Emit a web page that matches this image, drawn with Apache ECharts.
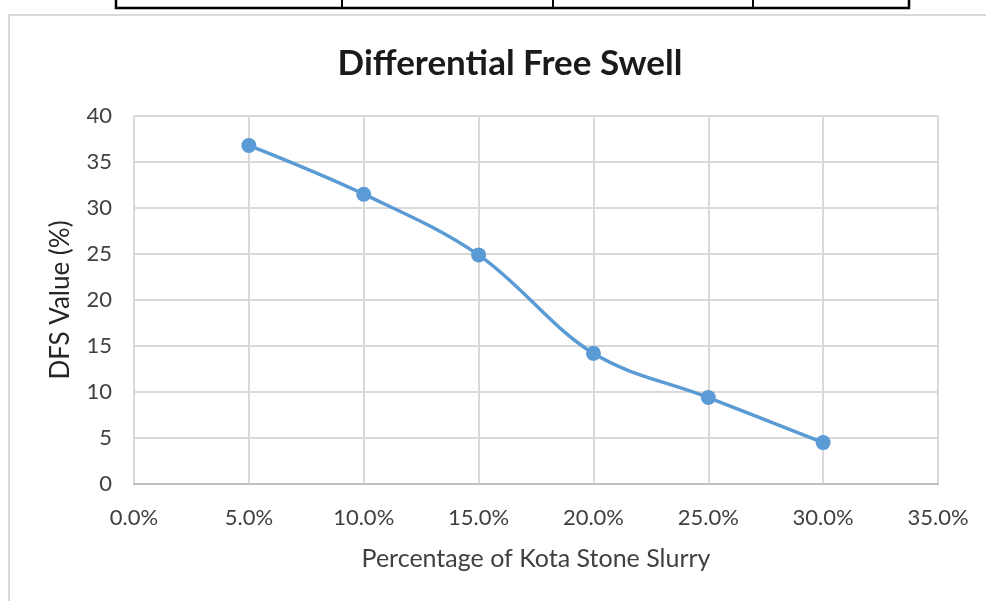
<!DOCTYPE html>
<html><head><meta charset="utf-8">
<script src="https://cdn.jsdelivr.net/npm/echarts@6/dist/echarts.min.js"></script>
<style>html,body{margin:0;padding:0;background:#fff}#c{width:986px;height:601px}</style>
</head><body><div id="c"></div>
<script>
const percentages = [0.05, 0.10, 0.15, 0.20, 0.25, 0.30];
const dfsValues = [36.8, 31.5, 24.9, 14.2, 9.4, 4.5];
const xTicks = [0, 0.05, 0.10, 0.15, 0.20, 0.25, 0.30, 0.35];
const yTicks = [0, 5, 10, 15, 20, 25, 30, 35, 40];

const chart = echarts.init(document.getElementById('c'));
const FONT = 'Lato, "Open Sans", sans-serif';
chart.setOption({
  animation: false,
  backgroundColor: '#fff',
  title: {
    text: 'Differential Free Swell', left: 505, top: 41, textAlign: 'center',
    textStyle: {fontFamily: FONT, fontSize: 35, fontWeight: 'bold', color: '#1a1a1a'}
  },
  grid: {left: 134, right: 48, top: 116, bottom: 117},
  xAxis: {
    type: 'value', min: 0, max: 0.35, interval: 0.05,
    name: 'Percentage of Kota Stone Slurry', nameLocation: 'middle', nameGap: 62,
    nameTextStyle: {fontFamily: FONT, fontSize: 25, color: '#404040'},
    axisLine: {show: true, lineStyle: {color: '#bfbfbf', width: 2}},
    axisTick: {show: false},
    axisLabel: {margin: 23, fontFamily: FONT, fontSize: 22, color: '#404040',
      formatter: v => (v * 100).toFixed(1) + '%'},
    splitLine: {show: true, lineStyle: {color: '#d9d9d9', width: 2}}
  },
  yAxis: {
    type: 'value', min: 0, max: 40, interval: 5,
    name: 'DFS Value (%)', nameLocation: 'middle', nameGap: 60,
    nameTextStyle: {fontFamily: FONT, fontSize: 26, color: '#262626'},
    axisLine: {show: false}, axisTick: {show: false},
    axisLabel: {margin: 22, fontFamily: FONT, fontSize: 22, color: '#404040'},
    splitLine: {show: true, lineStyle: {color: '#d9d9d9', width: 2}}
  },
  series: [{
    type: 'line', smooth: 0.35,
    data: percentages.map((p, i) => [p, dfsValues[i]]),
    symbol: 'circle', symbolSize: 15,
    lineStyle: {color: '#5b9bd5', width: 3.5},
    itemStyle: {color: '#5b9bd5'}
  }],
  graphic: [
    {type: 'rect', shape: {x: 9, y: 15, width: 990, height: 600}, style: {fill: 'none', stroke: '#d9d9d9', lineWidth: 2}},
    {type: 'polyline', shape: {points: [[116, -2], [116, 8], [909, 8], [909, -2]]}, style: {fill: 'none', stroke: '#000', lineWidth: 2.5}},
    {type: 'line', shape: {x1: 342, y1: 0, x2: 342, y2: 8}, style: {stroke: '#000', lineWidth: 2}},
    {type: 'line', shape: {x1: 553, y1: 0, x2: 553, y2: 8}, style: {stroke: '#000', lineWidth: 2}},
    {type: 'line', shape: {x1: 753, y1: 0, x2: 753, y2: 8}, style: {stroke: '#000', lineWidth: 2}}
  ]
});
</script></body></html>
